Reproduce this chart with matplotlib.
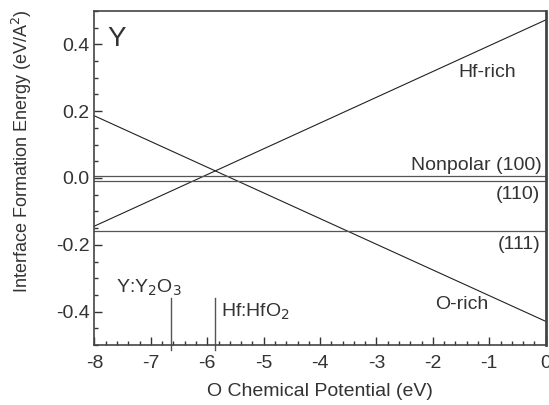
import matplotlib.pyplot as plt
import numpy as np

plt.rcParams['font.family'] = ['Liberation Sans', 'DejaVu Sans']
plt.rcParams['axes.unicode_minus'] = False

# O chemical potential range (eV)
mu_o = [-8.0, 0.0]

# interface formation energies at the ends of the range (eV/A^2)
hf_rich = [-0.144, 0.473]
o_rich = [0.186, -0.429]

# polar-independent interfaces
nonpolar_100 = 0.006
e_110 = -0.008
e_111 = -0.16

# oxide formation limits
limit_names = ['Y:Y$_2$O$_3$', 'Hf:HfO$_2$']
limit_mu = [-6.65, -5.86]

fig = plt.figure(figsize=(5.49, 4.05), dpi=100)
ax = fig.add_axes([0.172, 0.148, 0.822, 0.825])

ax.plot(mu_o, hf_rich, color='#222222', lw=0.8)
ax.plot(mu_o, o_rich, color='#222222', lw=0.8)
for e in [nonpolar_100, e_110, e_111]:
    ax.axhline(e, color='#555555', lw=0.9)

for m in limit_mu:
    ax.plot([m, m], [-0.515, -0.36], color='#555555', lw=1.0, clip_on=False)

ax.set_xlim(-8, 0)
ax.set_ylim(-0.5, 0.5)
ax.set_xticks(np.arange(-8, 1, 1))
ax.set_xticks(np.arange(-8, 0.01, 0.2), minor=True)
ax.set_yticks([-0.4, -0.2, 0.0, 0.2, 0.4])
ax.set_yticks(np.arange(-0.5, 0.501, 0.05), minor=True)
ax.set_yticklabels(['-0.4', '-0.2', '0.0', '0.2', '0.4'])
ax.tick_params(which='both', direction='in', labelsize=14, color='#333333',
               labelcolor='#333333')
ax.tick_params(axis='x', which='major', pad=7)
ax.tick_params(which='major', length=6, width=1)
ax.tick_params(which='minor', length=3, width=1)

for side in ['top', 'right', 'left', 'bottom']:
    ax.spines[side].set_color('#444444')
    ax.spines[side].set_linewidth(1.2)
ax.spines['right'].set_linewidth(2)

ax.set_xlabel('O Chemical Potential (eV)', fontsize=14, color='#333333', labelpad=8)
ax.set_ylabel('Interface Formation Energy (eV/A$^2$)', fontsize=13, color='#333333')
ax.yaxis.set_label_coords(-0.133, 0.58)

txt = dict(fontsize=14, color='#333333')
ax.text(-7.77, 0.415, 'Y', fontsize=20, color='#333333', va='center')
ax.text(-1.04, 0.316, 'Hf-rich', ha='center', va='center', **txt)
ax.text(-0.07, 0.036, 'Nonpolar (100)', ha='right', va='center', **txt)
ax.text(-0.1, -0.05, '(110)', ha='right', va='center', **txt)
ax.text(-0.1, -0.2, '(111)', ha='right', va='center', **txt)
ax.text(-1.49, -0.38, 'O-rich', ha='center', va='center', **txt)
ax.text(-7.62, -0.33, limit_names[0], ha='left', va='center', **txt)
ax.text(-5.76, -0.40, limit_names[1], ha='left', va='center', **txt)

fig.savefig('out.png', dpi=100)
